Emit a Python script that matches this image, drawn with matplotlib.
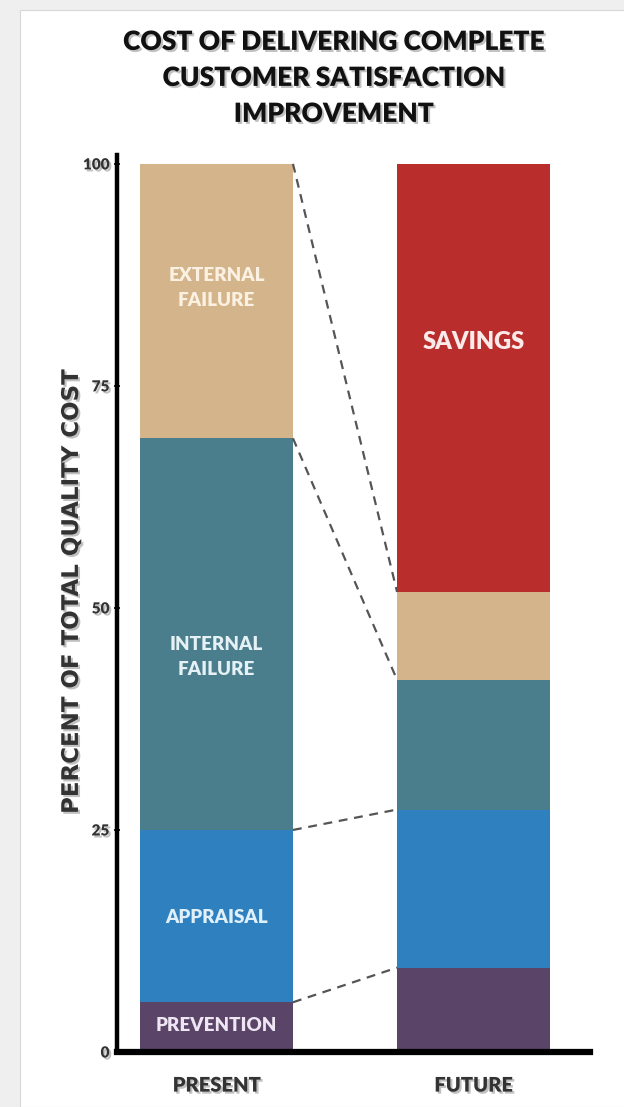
import numpy as np
import matplotlib
matplotlib.use("Agg")
import matplotlib.pyplot as plt
import matplotlib.patheffects as pe
from matplotlib.patches import Rectangle

# ── Data (percent of total quality cost, stacked bottom -> top) ─────────────
periods = ["PRESENT", "FUTURE"]
segments = ["PREVENTION", "APPRAISAL", "INTERNAL FAILURE", "EXTERNAL FAILURE", "SAVINGS"]
present = [5.6, 19.4, 44.1, 30.9, 0.0]
future = [9.5, 17.8, 14.6, 9.9, 48.2]
colors = ["#5a4468", "#2f80bf", "#4a7e8c", "#d4b58b", "#b92e2c"]
yticks = [0, 25, 50, 75, 100]

BAR_W = 0.595
TEXT_FAM = ["Lato", "DejaVu Sans"]
shadow = [pe.withSimplePatchShadow(offset=(1.5, -1.5), shadow_rgbFace="#999999", alpha=0.6)]

fig = plt.figure(figsize=(6.24, 11.07), dpi=100, facecolor="#efefef")
# white slide panel (behind everything)
fig.patches.append(Rectangle((20 / 624, 0), 1, 1 - 10 / 1107, transform=fig.transFigure,
                             facecolor="white", edgecolor="#d8d8d8", lw=0.8, zorder=-5))

ax = fig.add_axes([117 / 624, 55 / 1107, 473 / 624, 897 / 1107])
ax.set_facecolor("none")

x = np.arange(len(periods))
data = np.array([present, future])
bottoms = np.zeros(len(periods))
for i, seg in enumerate(segments):
    vals = data[:, i]
    ax.bar(x, vals, BAR_W, bottom=bottoms, color=colors[i], edgecolor="none", zorder=2)
    bottoms = bottoms + vals

# dashed connectors between matching segment tops
ptops = np.cumsum(present)[:4]
ftops = np.cumsum(future)[:4]
for pt, ft in zip(ptops, ftops):
    ax.plot([x[0] + BAR_W / 2, x[1] - BAR_W / 2], [pt, ft], ls=(0, (4, 3)),
            color="#555555", lw=1.6, zorder=3)

# labels inside bars
lab_kw = dict(ha="center", va="center", family=TEXT_FAM, fontweight="heavy", zorder=4)
ax.text(x[0], 86.0, "EXTERNAL\nFAILURE", color="#fbf1e2", fontsize=13.5, linespacing=1.6, **lab_kw)
ax.text(x[0], 44.5, "INTERNAL\nFAILURE", color="#e6f1f5", fontsize=13.5, linespacing=1.6, **lab_kw)
ax.text(x[0], 15.2, "APPRAISAL", color="#dff0fb", fontsize=13.5, **lab_kw)
ax.text(x[0], 3.0, "PREVENTION", color="#eee6f2", fontsize=13.5, **lab_kw)
ax.text(x[1], 80.0, "SAVINGS", color="#fbeaea", fontsize=17, **lab_kw)

# axes styling
ax.set_xlim(-0.387, 1.453)
ax.set_ylim(0, 101.0)
for s in ["top", "right"]:
    ax.spines[s].set_visible(False)
ax.spines["left"].set_linewidth(3.2)
ax.spines["bottom"].set_linewidth(4.5)
ax.set_yticks(yticks)
ax.set_yticklabels([str(t) for t in yticks], family=TEXT_FAM, fontweight="heavy",
                   fontsize=11, color="#333333")
ax.tick_params(axis="y", direction="inout", length=5, width=1.2, pad=3)
ax.set_xticks(x)
ax.set_xticklabels(periods, family=TEXT_FAM, fontweight="heavy", fontsize=14.5, color="#333333")
ax.tick_params(axis="x", length=0, pad=17)
for lbl in ax.get_xticklabels() + ax.get_yticklabels():
    lbl.set_path_effects(shadow)

ax.set_ylabel("PERCENT OF TOTAL QUALITY COST", family=["DejaVu Sans"], fontweight="bold",
              fontsize=16.5, color="#333333", path_effects=shadow)
ax.yaxis.set_label_coords(-0.072, 0.513)

fig.text(0.535, 0.973, "COST OF DELIVERING COMPLETE\nCUSTOMER SATISFACTION\nIMPROVEMENT",
         ha="center", va="top", family=TEXT_FAM, fontweight="heavy", fontsize=19,
         color="#111111", linespacing=1.6, path_effects=shadow)

fig.savefig("out.png", dpi=100, facecolor=fig.get_facecolor())
